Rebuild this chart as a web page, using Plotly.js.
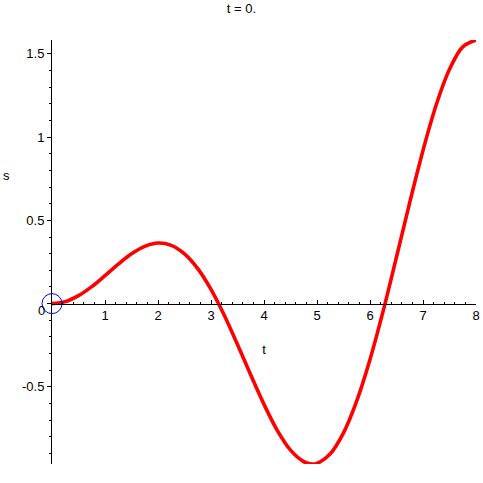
<!DOCTYPE html>
<html>
<head>
<meta charset="utf-8">
<script src="https://cdn.plot.ly/plotly-3.0.1.min.js"></script>
<style>html,body{margin:0;padding:0;background:#fff;}#chart{width:483px;height:483px;}</style>
</head>
<body>
<div id="chart"></div>
<script>
// values
const tValues = [0, 0.25, 0.5, 0.75, 1.0, 1.25, 1.5, 1.75, 2.0, 2.25, 2.5, 2.75, 3.0, 3.25, 3.5, 3.75, 4.0, 4.25, 4.5, 4.75, 4.875, 5.0, 5.25, 5.5, 5.75, 6.0, 6.25, 6.5, 6.75, 7.0, 7.25, 7.5, 7.75, 8.0];
const sValues = [0, 0.012, 0.048, 0.102, 0.168, 0.237, 0.299, 0.344, 0.364, 0.350, 0.299, 0.210, 0.085, -0.070, -0.246, -0.429, -0.605, -0.761, -0.880, -0.949, -0.962, -0.959, -0.902, -0.776, -0.584, -0.335, -0.042, 0.280, 0.608, 0.920, 1.194, 1.407, 1.542, 1.583];
const markerT = [0];
const markerS = [0];
const xTickVals = [1, 2, 3, 4, 5, 6, 7, 8];
const xTickText = ['1', '2', '3', '4', '5', '6', '7', '8'];
const yTickVals = [-0.5, 0, 0.5, 1, 1.5];
const yTickText = ['-0.5', '', '0.5', '1', '1.5'];
const titleText = 't = 0.';
const xTitle = 't';
const yTitle = 's';
const originLabel = '0';

const yMin = -0.963, yMax = 1.583;
const fontFam = '"Liberation Sans", Arial, sans-serif';

const traces = [
  {x: tValues, y: sValues, mode: 'lines', line: {color: '#ff0000', width: 3.6, shape: 'spline'}, hoverinfo: 'skip', cliponaxis: false},
  {x: markerT, y: markerS, mode: 'markers', cliponaxis: false, marker: {symbol: 'circle-open', size: 20, color: '#0000ff', line: {color: '#0000ff', width: 1}}, hoverinfo: 'skip'}
];

const layout = {
  width: 483, height: 483,
  margin: {l: 52, r: 7, t: 40, b: 19},
  paper_bgcolor: '#ffffff', plot_bgcolor: '#ffffff',
  showlegend: false,
  font: {family: fontFam, size: 13, color: '#000'},
  title: {text: titleText, x: 0.5, xref: 'container', y: 1 - 8/483, yref: 'container', yanchor: 'middle', font: {family: fontFam, size: 13, color: '#000'}},
  xaxis: {
    range: [0, 8], anchor: 'free', position: (0 - yMin) / (yMax - yMin),
    showgrid: false, zeroline: false, showline: true, linecolor: '#000', linewidth: 1,
    tickvals: xTickVals, ticktext: xTickText, ticks: 'inside', ticklen: 4, tickcolor: '#000', tickwidth: 1,
    minor: {dtick: 0.2, ticks: 'inside', ticklen: 2, tickcolor: '#000'},
    tickfont: {family: fontFam, size: 13, color: '#000'},
    title: {text: xTitle, standoff: 22, font: {family: fontFam, size: 13, color: '#000'}}
  },
  yaxis: {
    range: [yMin, yMax],
    showgrid: false, zeroline: false, showline: true, linecolor: '#000', linewidth: 1,
    tickvals: yTickVals, ticktext: yTickText, ticks: 'outside', ticklen: 4, tickcolor: '#000', tickwidth: 1,
    minor: {dtick: 0.1, ticks: 'outside', ticklen: 2, tickcolor: '#000'},
    tickfont: {family: fontFam, size: 13, color: '#000'}
  },
  annotations: [
    {text: originLabel, x: 0, y: 0, xref: 'x', yref: 'y', xanchor: 'right', yanchor: 'middle', xshift: -5, yshift: -7, showarrow: false, font: {family: fontFam, size: 13, color: '#000'}},
    {text: yTitle, x: (6 - 52) / (483 - 52 - 7), y: (483 - 19 - 175) / (483 - 40 - 19), xref: 'paper', yref: 'paper', xanchor: 'center', yanchor: 'middle', showarrow: false, font: {family: fontFam, size: 13, color: '#000'}}
  ]
};

Plotly.newPlot('chart', traces, layout, {staticPlot: true, displayModeBar: false});
</script>
</body>
</html>
